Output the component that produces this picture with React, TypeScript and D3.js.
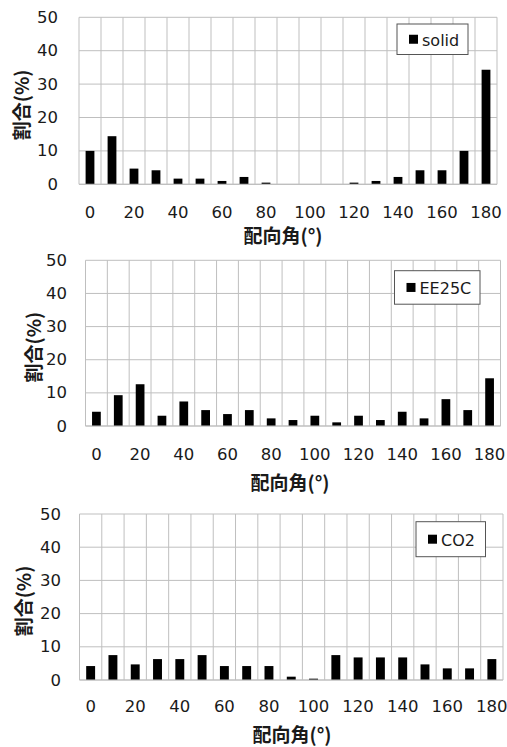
import React from "react";
import * as d3 from "d3";

const angles = [0, 10, 20, 30, 40, 50, 60, 70, 80, 90, 100, 110, 120, 130, 140, 150, 160, 170, 180];
const yTicks = [0, 10, 20, 30, 40, 50];
const xTickLabels = [0, 20, 40, 60, 80, 100, 120, 140, 160, 180];

const solidValues = [10, 14.4, 4.7, 4.2, 1.7, 1.7, 1.0, 2.2, 0.5, 0, 0, 0, 0.5, 1.0, 2.2, 4.2, 4.2, 10, 34.3];
const ee25cValues = [4.3, 9.3, 12.6, 3.1, 7.4, 4.8, 3.6, 4.8, 2.3, 1.8, 3.1, 1.1, 3.1, 1.8, 4.3, 2.3, 8.1, 4.8, 14.4];
const co2Values = [4.2, 7.5, 4.7, 6.3, 6.3, 7.5, 4.2, 4.2, 4.2, 1.0, 0.4, 7.5, 6.8, 6.8, 6.8, 4.7, 3.5, 3.5, 6.3];

const seriesNames = ["solid", "EE25C", "CO2"];
const yTitle = "割合(%)";
const xTitle = "配向角(°)";

type Layout = {
  left: number; right: number; top: number; bottom: number;
  yTickRight: number; yTitleX: number; xLabelY: number; xTitleX: number; xTitleY: number;
  legend: [number, number, number, number];
};

const layouts: Layout[] = [
  { left: 79, right: 497, top: 17.3, bottom: 184.3, yTickRight: 58, yTitleX: 20, xLabelY: 212, xTitleX: 283, xTitleY: 234, legend: [397, 24, 71, 30.5] },
  { left: 85.5, right: 500.5, top: 260.3, bottom: 426, yTickRight: 67, yTitleX: 32, xLabelY: 454.5, xTitleX: 290, xTitleY: 481, legend: [394.5, 270.7, 85.5, 33.5] },
  { left: 79.5, right: 503, top: 514, bottom: 680, yTickRight: 61, yTitleX: 22, xLabelY: 706.5, xTitleX: 292, xTitleY: 733.5, legend: [416, 521.7, 69.5, 35] },
];

const LATIN = "'DejaVu Sans', 'Noto Sans', sans-serif";
const CJK = "'Noto Sans CJK JP', sans-serif";
const GRID = "#bfbfbf";
const TXT = "#1a1a1a";

function Panel({ values, name, L }: { values: number[]; name: string; L: Layout }) {
  const x = d3.scaleBand<number>().domain(angles).range([L.left, L.right]).paddingInner(0).paddingOuter(0);
  const y = d3.scaleLinear().domain([0, 50]).range([L.bottom, L.top]);
  const bw = x.bandwidth() * 0.4;
  const [lx, ly, lw, lh] = L.legend;
  return (
    <g>
      {yTicks.map((t) => (
        <line key={"h" + t} x1={L.left} x2={L.right} y1={y(t)} y2={y(t)} stroke={GRID} strokeWidth={1} />
      ))}
      {angles.map((a) => (
        <line key={"v" + a} x1={x(a)!} x2={x(a)!} y1={L.top} y2={L.bottom} stroke={GRID} strokeWidth={1} />
      ))}
      <line x1={L.right} x2={L.right} y1={L.top} y2={L.bottom} stroke={GRID} strokeWidth={1} />
      {angles.map((a, i) => (
        <rect key={"b" + a} x={x(a)! + (x.bandwidth() - bw) / 2} y={y(values[i])} width={bw} height={y(0) - y(values[i])} fill="#000" />
      ))}
      <line x1={L.left} x2={L.right} y1={y(0)} y2={y(0)} stroke={GRID} strokeWidth={1.2} />
      {yTicks.map((t) => (
        <text key={"yt" + t} x={L.yTickRight} y={y(t)} textAnchor="end" dominantBaseline="central" fontFamily={LATIN} fontSize={16.5} fill={TXT}>{t}</text>
      ))}
      {xTickLabels.map((t) => (
        <text key={"xt" + t} x={x(t)! + x.bandwidth() / 2} y={L.xLabelY} textAnchor="middle" dominantBaseline="central" fontFamily={LATIN} fontSize={16.5} fill={TXT}>{t}</text>
      ))}
      <text x={L.xTitleX} y={L.xTitleY} textAnchor="middle" dominantBaseline="central" fontFamily={CJK} fontWeight="bold" fontSize={19} fill={TXT}>{xTitle}</text>
      <text transform={`translate(${L.yTitleX},${(L.top + L.bottom) / 2 + 4}) rotate(-90)`} textAnchor="middle" dominantBaseline="central" fontFamily={CJK} fontWeight="bold" fontSize={19} fill={TXT}>{yTitle}</text>
      <rect x={lx} y={ly} width={lw} height={lh} fill="#fff" stroke="#555" strokeWidth={1} />
      <rect x={lx + 12} y={ly + lh / 2 - 4.5} width={9} height={9} fill="#000" />
      <text x={lx + 25} y={ly + lh / 2 + 1} dominantBaseline="central" fontFamily={LATIN} fontSize={16} fill={TXT}>{name}</text>
    </g>
  );
}

export default function App() {
  const allValues = [solidValues, ee25cValues, co2Values];
  return (
    <svg width={507} height={747} style={{ position: "absolute", left: 0, top: 0, background: "#fff" }}>
      <rect x={0} y={0} width={507} height={747} fill="#fff" />
      {allValues.map((v, i) => (
        <Panel key={i} values={v} name={seriesNames[i]} L={layouts[i]} />
      ))}
    </svg>
  );
}
